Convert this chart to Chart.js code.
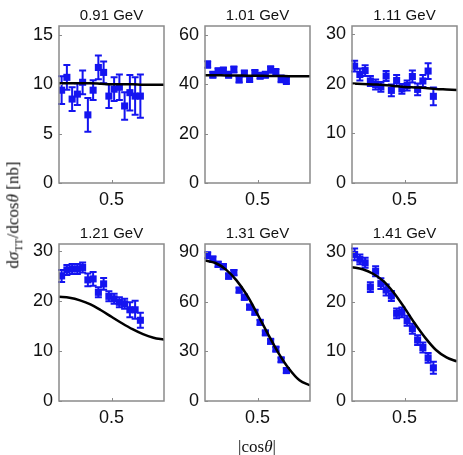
<!DOCTYPE html>
<html>
<head>
<meta charset="utf-8">
<script src="https://cdn.jsdelivr.net/npm/chart.js@4.4.1/dist/chart.umd.min.js"></script>
<style>
  body { margin: 0; background: #fff; width: 463px; height: 455px; position: relative; overflow: hidden; }
  canvas { position: absolute; }
  .axt { position: absolute; white-space: nowrap; font-family: 'Liberation Serif', 'DejaVu Serif', serif; font-size: 17px; color: #111; }
</style>
</head>
<body>
<canvas id="p0" width="156" height="218" style="left:14px;top:0px"></canvas>
<canvas id="p1" width="156" height="218" style="left:160px;top:0px"></canvas>
<canvas id="p2" width="156" height="218" style="left:307px;top:0px"></canvas>
<canvas id="p3" width="156" height="218" style="left:14px;top:218px"></canvas>
<canvas id="p4" width="156" height="218" style="left:160px;top:218px"></canvas>
<canvas id="p5" width="156" height="218" style="left:307px;top:218px"></canvas>
<div class="axt" style="left:14px;top:215px;transform:translate(-50%,-50%) rotate(-90deg)">d<i>σ</i><sub style="font-size:11px">TT</sub>/dcos<i>θ</i> [nb]</div>
<div class="axt" style="left:257px;top:447px;transform:translate(-50%,-50%)">|cos<i>θ</i>|</div>
<script>
// panel titles (W) and axes
const energies = ['0.91 GeV', '1.01 GeV', '1.11 GeV', '1.21 GeV', '1.31 GeV', '1.41 GeV']
const yMax = [15.9, 63.5, 31.7, 31.5, 95, 31.7]
const yTicks = [[0, 5, 10, 15], [0, 20, 40, 60], [0, 10, 20, 30], [0, 10, 20, 30], [0, 30, 60, 90], [0, 10, 20, 30]]
const xTicks = [0.5]

// |cos theta| bin centres of the data
const cosTheta = [0.025, 0.075, 0.125, 0.175, 0.225, 0.275, 0.325, 0.375, 0.425, 0.475, 0.525, 0.575, 0.625, 0.675, 0.725, 0.775]

// measured cross sections and errors
const sigma091 = [9.4, 10.7, 8.5, 9.0, 10.2, 6.9, 9.4, 11.7, 11.2, 8.8, 9.5, 9.7, 7.8, 9.15, 8.8, 8.8]
const err091 = [1.4, 1.25, 1.2, 1.1, 1.2, 1.7, 1.0, 1.2, 1.1, 1.2, 1.2, 1.3, 1.4, 1.8, 1.9, 2.2]
const sigma101 = [47.9, 43.8, 45.2, 45.5, 43.8, 45.9, 41.8, 44.3, 42.1, 44.5, 43.4, 43.8, 45.9, 44.8, 42.1, 41.5]
const err101 = [1.3, 1.2, 1.2, 1.2, 1.2, 1.2, 1.2, 1.2, 1.2, 1.2, 1.2, 1.2, 1.3, 1.3, 1.4, 1.5]
const sigma111 = [23.6, 21.9, 22.7, 20.6, 19.9, 19.4, 21.6, 18.7, 20.7, 19.0, 19.7, 21.5, 18.9, 20.6, 22.6, 17.5]
const err111 = [1.1, 1.2, 1.1, 1.0, 1.0, 1.0, 1.0, 1.2, 1.1, 1.0, 1.0, 1.2, 1.2, 1.2, 1.6, 1.8]
const sigma121 = [25.1, 26.3, 26.5, 26.5, 26.8, 24.3, 24.5, 21.8, 23.5, 21.0, 20.5, 19.8, 19.5, 18.3, 18.3, 16.2]
const err121 = [1.2, 1.0, 1.0, 1.0, 1.0, 1.3, 1.4, 1.0, 1.2, 1.0, 1.0, 1.0, 1.0, 1.5, 1.8, 1.5]
const sigma131 = [88.2, 85.8, 82.7, 81.3, 75.6, 77.7, 67.1, 62.8, 56.8, 53.7, 47.6, 41.2, 36.1, 31.4, 24.9, 18.4]
const err131 = [1.8, 1.6, 1.6, 1.6, 1.6, 1.6, 1.5, 1.5, 1.5, 1.4, 1.4, 1.3, 1.3, 1.3, 1.3, 1.4]
const sigma141 = [29.6, 28.6, 27.9, 23.0, 26.2, 23.7, 22.4, 21.2, 17.7, 17.9, 16.2, 14.6, 12.3, 10.8, 8.7, 6.7]
const err141 = [1.2, 1.0, 1.0, 1.0, 1.0, 1.1, 1.1, 1.0, 1.0, 1.0, 1.0, 1.0, 1.0, 1.0, 1.0, 1.2]

// model curves
const curveCos = [0, 0.1, 0.2, 0.3, 0.4, 0.5, 0.6, 0.7, 0.8, 0.9, 1.0]
const model091 = [10.1, 10.1, 10.1, 10.1, 10.05, 10.0, 10.0, 10.0, 9.95, 9.95, 9.95]
const model101 = [43.6, 43.6, 43.5, 43.5, 43.4, 43.4, 43.3, 43.3, 43.2, 43.2, 43.2]
const model111 = [20.1, 20.0, 19.9, 19.8, 19.6, 19.4, 19.3, 19.2, 19.0, 18.9, 18.8]
const model121 = [20.9, 20.7, 20.2, 19.4, 18.2, 16.9, 15.6, 14.4, 13.4, 12.7, 12.3]
const model131 = [85, 83.5, 79.5, 73, 64, 52.5, 40.5, 29, 19.5, 12.5, 9.5]
const model141 = [27.0, 26.6, 25.7, 24.2, 21.8, 18.8, 15.6, 12.7, 10.3, 8.8, 8.0]

const sigmas = [sigma091, sigma101, sigma111, sigma121, sigma131, sigma141]
const errors = [err091, err101, err111, err121, err131, err141]
const models = [model091, model101, model111, model121, model131, model141]

const FRAME = '#8a8a8a'
const BLUE = '#1414f0'
const sansFont = "'Liberation Sans', Arial, sans-serif"

const errorBars = {
  id: 'errorBars',
  beforeDatasetsDraw(chart, args, opts) {
    const { ctx } = chart
    const x = chart.scales.x
    const y = chart.scales.y
    const ds = chart.data.datasets[1]
    ctx.save()
    ctx.strokeStyle = BLUE
    ctx.lineWidth = 2
    ds.data.forEach((p, i) => {
      const e = opts.err[i]
      const px = x.getPixelForValue(p.x)
      const y1 = y.getPixelForValue(p.y - e)
      const y2 = y.getPixelForValue(p.y + e)
      ctx.beginPath()
      ctx.moveTo(px, y1); ctx.lineTo(px, y2)
      ctx.moveTo(px - 3.5, y1); ctx.lineTo(px + 3.5, y1)
      ctx.moveTo(px - 3.5, y2); ctx.lineTo(px + 3.5, y2)
      ctx.stroke()
    })
    ctx.restore()
  }
}

const frame = {
  id: 'frame',
  afterDraw(chart, args, opts) {
    const { ctx, chartArea: a } = chart
    const x = chart.scales.x
    const y = chart.scales.y
    ctx.save()
    ctx.strokeStyle = FRAME
    ctx.lineWidth = 1.5
    ctx.strokeRect(a.left, a.top, a.right - a.left, a.bottom - a.top)
    ctx.lineWidth = 1
    ctx.beginPath()
    y.ticks.forEach(t => {
      const py = Math.round(y.getPixelForValue(t.value)) + 0.5
      ctx.moveTo(a.left, py); ctx.lineTo(a.left + 3, py)
    })
    xTicks.forEach(v => {
      const px = Math.round(x.getPixelForValue(v)) + 0.5
      ctx.moveTo(px, a.bottom); ctx.lineTo(px, a.bottom - 3)
    })
    ctx.stroke()
    ctx.fillStyle = '#111'
    ctx.font = '15px ' + sansFont
    ctx.textAlign = 'center'
    ctx.textBaseline = 'alphabetic'
    ctx.fillText(opts.title, (a.left + a.right) / 2, a.top - 6)
    ctx.restore()
  }
}

const makePanel = (i) => {
  const ctx = document.getElementById('p' + i)
  return new Chart(ctx, {
    type: 'scatter',
    data: {
      datasets: [
        {
          data: curveCos.map((c, k) => ({ x: c, y: models[i][k] })),
          showLine: true,
          borderColor: '#000',
          borderWidth: 2.5,
          pointRadius: 0,
          cubicInterpolationMode: 'monotone',
          order: 1,
        },
        {
          data: cosTheta.map((c, k) => ({ x: c, y: sigmas[i][k] })),
          pointStyle: 'rect',
          pointRadius: 5,
          backgroundColor: BLUE,
          borderColor: BLUE,
          borderWidth: 0,
          order: 2,
        },
      ],
    },
    options: {
      responsive: false,
      animation: false,
      devicePixelRatio: 1,
      layout: { padding: { top: 26, right: 6, left: 0, bottom: 0 } },
      plugins: {
        legend: { display: false },
        tooltip: { enabled: false },
        errorBars: { err: errors[i] },
        frame: { title: energies[i] },
      },
      scales: {
        x: {
          type: 'linear',
          min: 0,
          max: 1,
          afterBuildTicks: s => { s.ticks = xTicks.map(v => ({ value: v })) },
          afterFit: s => { s.height = 35 },
          grid: { display: false, drawTicks: false },
          border: { display: false },
          ticks: { padding: 6, color: '#111', font: { size: 18, family: sansFont }, maxRotation: 0, callback: v => v.toString() },
        },
        y: {
          type: 'linear',
          min: 0,
          max: yMax[i],
          afterBuildTicks: s => { s.ticks = yTicks[i].map(v => ({ value: v })) },
          afterFit: s => { s.width = 45 },
          grid: { display: false, drawTicks: false },
          border: { display: false },
          ticks: { padding: 6, color: '#111', font: { size: 18, family: sansFont }, callback: v => v.toString() },
        },
      },
    },
    plugins: [errorBars, frame],
  })
}

energies.forEach((e, i) => makePanel(i))
</script>
</body>
</html>
